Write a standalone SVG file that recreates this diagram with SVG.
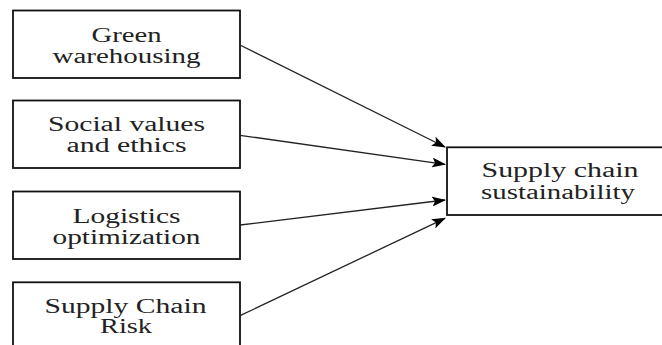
<svg xmlns="http://www.w3.org/2000/svg" width="662" height="345" viewBox="0 0 662 345">
<style>
.box{fill:#fff;stroke:#111;stroke-width:1.8}
.t{font-family:"Liberation Serif","Times New Roman",serif;font-size:20px;fill:#222;text-anchor:middle}
.c{stroke:#222;stroke-width:1.3;fill:none}
</style>
<defs>
<marker id="ah" markerUnits="userSpaceOnUse" markerWidth="14" markerHeight="10" refX="13" refY="5" orient="auto">
<path d="M0,0 L14,5 L0,10 L3,5 Z" fill="#000"/>
</marker>
</defs>
<rect width="662" height="345" fill="#fff"/>
<g id="n1">
<rect class="box" x="13" y="10.5" width="227" height="67.5"/>
<text class="t" x="126.5" y="41.5" textLength="70" lengthAdjust="spacingAndGlyphs">Green</text>
<text class="t" x="126.5" y="62.5" textLength="148" lengthAdjust="spacingAndGlyphs">warehousing</text>
</g>
<g id="n2">
<rect class="box" x="13" y="100.5" width="227" height="67.5"/>
<text class="t" x="126.5" y="131" textLength="157" lengthAdjust="spacingAndGlyphs">Social values</text>
<text class="t" x="126.5" y="151.7" textLength="120" lengthAdjust="spacingAndGlyphs">and ethics</text>
</g>
<g id="n3">
<rect class="box" x="13" y="191.5" width="227" height="67.5"/>
<text class="t" x="126.5" y="222.7" textLength="108" lengthAdjust="spacingAndGlyphs">Logistics</text>
<text class="t" x="126.5" y="244" textLength="148" lengthAdjust="spacingAndGlyphs">optimization</text>
</g>
<g id="n4">
<rect class="box" x="13" y="282.3" width="227" height="80"/>
<text class="t" x="125.5" y="312.7" textLength="162" lengthAdjust="spacingAndGlyphs">Supply Chain</text>
<text class="t" x="126" y="333" textLength="52" lengthAdjust="spacingAndGlyphs">Risk</text>
</g>
<g id="n5">
<rect class="box" x="447" y="147.3" width="230" height="67.7"/>
<text class="t" x="560" y="176.7" textLength="157" lengthAdjust="spacingAndGlyphs">Supply chain</text>
<text class="t" x="558" y="199" textLength="154" lengthAdjust="spacingAndGlyphs">sustainability</text>
</g>
<g id="connectors">
<line class="c" x1="240" y1="45" x2="445" y2="147" marker-end="url(#ah)"/>
<line class="c" x1="240" y1="135.3" x2="445" y2="164.3" marker-end="url(#ah)"/>
<line class="c" x1="240" y1="225" x2="445" y2="200" marker-end="url(#ah)"/>
<line class="c" x1="240" y1="315.7" x2="445" y2="218.3" marker-end="url(#ah)"/>
</g>
</svg>
